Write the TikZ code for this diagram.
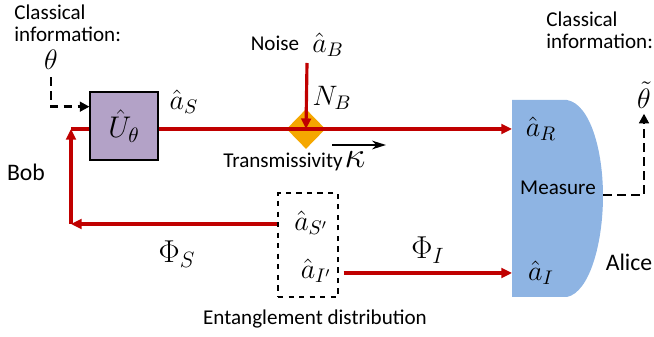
\RequirePackage{fix-cm}
\documentclass[tikz,border=0pt]{standalone}
\usepackage{amsmath}
\usepackage{fontspec}
\setmainfont{Carlito}
\usetikzlibrary{shapes.geometric,arrows.meta}
\definecolor{sigred}{HTML}{C00000}
\definecolor{gatepurple}{HTML}{B3A2C7}
\definecolor{bsorange}{HTML}{F5A700}
\definecolor{detblue}{HTML}{8EB4E3}
\begin{document}
\begin{tikzpicture}[x=0.02cm, y=-0.02cm,
    >={Triangle[length=6pt,width=5.5pt]},
    txt/.style={font=\fontsize{12}{12}\selectfont, inner sep=0pt},
    mlbl/.style={font=\fontsize{16}{18}\selectfont, inner sep=0pt},
    biglbl/.style={font=\fontsize{18}{20}\selectfont, inner sep=0pt},
    gatenode/.style={draw=black, fill=gatepurple, line width=0.6pt,
                     minimum width=1.36cm, minimum height=1.36cm, inner sep=0pt,
                     font=\fontsize{17}{19}\selectfont},
    bsnode/.style={diamond, fill=bsorange, minimum width=0.78cm,
                   minimum height=0.8cm, inner sep=0pt},
    entnode/.style={draw=black, dashed, line width=0.7pt,
                    minimum width=1.2cm, minimum height=2.08cm, inner sep=0pt},
    sigline/.style={sigred, line width=1.8pt},
    infoarrow/.style={>={Triangle[length=5.5pt,width=5.5pt]}, ->, black,
                      line width=1.5pt, dash pattern=on 5pt off 3pt}
]
\useasboundingbox (0,0) rectangle (654,337);

% receiver (Alice)
\fill[detblue] (512,100) -- (567,100)
  .. controls (590,104) and (603,150) .. (603,196)
  .. controls (603,242) and (590,292) .. (567,297)
  -- (512,297) -- cycle;

\node[bsnode]   (bs)   at (306,129) {};
\node[gatenode] (gate) at (124,126) {$\hat{U}_\theta$};
\node[entnode]  (ent)  at (308,245) {};

\coordinate (lcorner) at (71,129);
\coordinate (bcorner) at (71,224);
\coordinate (rin)     at (512,129);
\coordinate (iin)     at (512,273);
\coordinate (nsrc)    at (307,63);
\coordinate (mout)    at (603,195);
\coordinate (kapA)    at (332,145);
\coordinate (kapB)    at (386,145);

% labels
\node[txt, anchor=north west, align=left] (infoL) at (14,5)
  {Classical\\information:};
\node[txt, anchor=north west, align=left] (infoR) at (546,12)
  {Classical\\information:};
\node[mlbl] (theta)  at (51,60)  {$\theta$};
\node[mlbl] (thetat) at (644,95) {$\tilde{\theta}$};
\node[txt, font=\fontsize{13.5}{14}\selectfont] (bob) at (26,172) {Bob};
\node[txt, font=\fontsize{13.5}{14}\selectfont] (alice) at (629,262) {Alice};
\node[mlbl] (aS)  at (184,102) {$\hat{a}_S$};
\node[txt]  (noise) at (275,43) {Noise};
\node[mlbl] (aB)  at (328,45)  {$\hat{a}_B$};
\node[mlbl] (NB)  at (332,98)  {$N_B$};
\node[txt]  (trans) at (283,162) {Transmissivity};
\node[mlbl, font=\fontsize{21}{22}\selectfont] (kap) at (355,160) {$\kappa$};
\node[txt]  (meas) at (558,188) {Measure};
\node[mlbl] (aR)  at (541,129) {$\hat{a}_R$};
\node[mlbl] (aI)  at (541,273) {$\hat{a}_I$};
\node[mlbl] (aSp) at (311,223) {$\hat{a}_{S'}$};
\node[mlbl] (aIp) at (316,271) {$\hat{a}_{I'}$};
\node[biglbl] (PhiS) at (177,254) {$\Phi_S$};
\node[biglbl] (PhiI) at (428,250) {$\Phi_I$};
\node[txt] (entlbl) at (315,319) {Entanglement distribution};

% quantum signal paths
\draw[sigline] (lcorner) -- (lcorner -| gate.west);
\draw[sigline, ->] (lcorner -| gate.east) -- (rin);
\draw[sigline, ->] (ent.west |- bcorner) -- (bcorner);
\draw[sigline, ->] (bcorner) -- (lcorner);
\draw[sigline, ->, shorten <=2.8pt] (ent.east |- iin) -- (iin);
\draw[sigline, ->] (nsrc) -- (bs.center);
\draw[->, >={Stealth[length=8pt,width=5pt]}, line width=1.1pt] (kapA) -- (kapB);

% classical information
\draw[infoarrow, shorten <=4pt] (theta.south) |- ([yshift=11pt]gate.west);
\draw[infoarrow, shorten >=3pt] (mout) -| (thetat.south);

\end{tikzpicture}
\end{document}
